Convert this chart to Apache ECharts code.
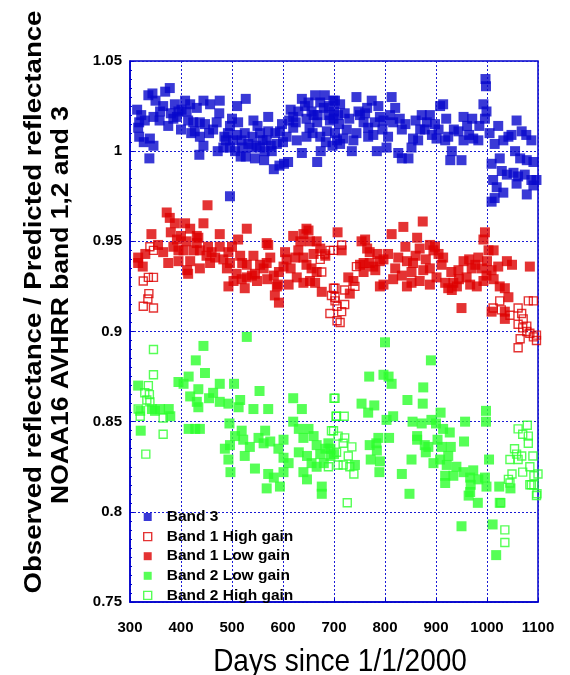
<!DOCTYPE html>
<html>
<head>
<meta charset="utf-8">
<script src="https://cdn.jsdelivr.net/npm/echarts@6/dist/echarts.min.js"></script>
<style>
  html, body { margin: 0; padding: 0; background: #ffffff; }
  #chart { width: 570px; height: 675px; }
</style>
</head>
<body>
<div id="chart"></div>
<script>
// Axis ticks
const dayTicks = [300, 400, 500, 600, 700, 800, 900, 1000, 1100];
const ratioTicks = [0.75, 0.8, 0.85, 0.9, 0.95, 1.0, 1.05];

// Titles
const xTitle = 'Days since 1/1/2000';
const yTitleLines = ['Observed reflectance / Predicted reflectance', 'NOAA16 AVHRR band 1,2 and 3'];

// Series names (legend order)
const seriesNames = ['Band 3', 'Band 1 High gain', 'Band 1 Low gain', 'Band 2 Low gain', 'Band 2 High gain'];

// [day, observed/predicted ratio]
const band3 = [
  [314,1.023],[336,1.031],[344,1.032],[369,1.033],[378,1.035],[365,1.025],[318,1.016],[316,1.013],[329,1.017],[346,1.019],
  [358,1.017],[375,1.014],[318,1.008],[327,1.005],[339,1.007],[346,1.003],[338,0.996],[388,1.026],[395,1.022],[408,1.028],
  [418,1.026],[431,1.024],[444,1.028],[392,1.019],[414,1.017],[424,1.016],[437,1.016],[447,1.015],[463,1.012],[427,1.011],
  [437,1.008],[444,1.003],[436,0.998],[476,1.028],[475,1.021],[500,1.018],[510,1.025],[527,1.029],[512,1.016],[488,1.006],
  [496,1.002],[506,1.000],[517,0.997],[527,0.997],[542,1.017],[550,1.014],[555,1.010],[545,0.996],[563,0.995],[571,1.019],
  [568,1.006],[576,1.003],[578,1.000],[582,0.990],[593,0.992],[602,0.993],[610,0.994],[594,1.011],[607,1.008],[615,1.023],
  [620,1.019],[625,1.016],[637,1.029],[643,1.025],[646,1.018],[652,1.013],[658,1.010],[663,1.031],[667,1.016],[673,1.027],
  [680,1.024],[682,1.031],[689,1.020],[699,1.028],[706,1.006],[697,1.003],[637,0.999],[667,0.994],[674,1.000],[684,1.005],
  [496,0.975],[483,1.002],[502,1.006],[519,1.006],[532,1.004],[539,1.002],[555,1.002],[564,1.000],[588,1.004],[600,1.005],
  [627,1.006],[646,1.008],[673,1.008],[686,1.011],[692,1.017],[660,1.020],[620,1.013],[571,1.011],[496,1.014],[411,1.022],
  [401,1.023],[457,1.026],[385,1.018],[359,1.022],
  [485,1.008],[492,1.010],[510,1.009],[525,1.010],[540,1.008],[548,1.003],[560,1.006],[585,1.010],[598,1.015],[612,1.017],
  [630,1.022],[650,1.027],[656,1.022],[668,1.020],[690,1.025],[700,1.022],[710,1.015],[725,1.012],[730,1.018],[748,1.022],
  [765,1.024],[780,1.016],[795,1.012],[810,1.020],[820,1.024],[840,1.015],[860,1.017],[878,1.012],[905,1.012],[920,1.018],
  [935,1.012],[965,1.009],[985,1.014],[1005,1.010],[470,1.016],[455,1.010],[380,1.021],[350,1.028],[322,1.020],[400,1.012],
  [420,1.010],[520,1.002],[472,1.000],
  [702,1.028],[712,1.026],[744,1.030],[699,1.018],[708,1.020],[721,1.021],[702,1.010],[718,1.007],[712,1.004],[735,1.000],
  [738,1.006],[751,1.020],[761,1.021],[758,1.016],[767,1.013],[774,1.028],[787,1.025],[777,1.009],[790,1.019],[797,1.017],
  [806,1.008],[813,1.030],[816,1.016],[829,1.018],[833,1.012],[826,0.999],[846,0.996],[852,1.002],[855,1.007],[865,1.006],
  [872,1.020],[882,1.016],[888,1.020],[892,1.009],[898,1.015],[908,1.025],[914,1.026],[901,1.007],[924,1.008],[931,1.000],
  [928,0.995],[950,0.995],[944,1.011],[954,1.019],[961,1.014],[971,1.018],[973,1.007],[983,1.006],[993,1.026],[999,1.022],
  [996,1.018],[997,1.040],[998,1.036],[1022,1.014],[1015,1.004],[1032,1.006],[1042,1.008],[1048,1.009],[1058,1.017],[1068,1.011],
  [1077,1.009],[1087,1.006],[1025,0.996],[1009,0.993],[1055,1.000],[1065,0.996],[1078,0.995],[1091,0.994],[1029,0.989],[1039,0.987],
  [1052,0.988],[1061,0.986],[1074,0.987],[1087,0.984],[1097,0.984],[1012,0.984],[1019,0.980],[1032,0.977],[1058,0.982],[1078,0.976],
  [1009,0.972],[1015,0.974],[1091,0.981],[744,1.010],[767,1.008],[869,1.012],[918,1.006],[954,1.006],[803,1.002],[784,1.000],
  [833,0.996]
];

const band1High = [
  [339,0.947],[346,0.945],[336,0.930],[346,0.930],[326,0.928],[337,0.921],[335,0.918],[326,0.914],[346,0.913],
  [692,0.945],[682,0.943],[673,0.940],[676,0.933],[699,0.924],[702,0.919],[695,0.920],[706,0.914],[692,0.910],[706,0.906],
  [715,0.948],[699,0.945],[744,0.936],[702,0.924],[721,0.923],[702,0.917],[721,0.915],[715,0.911],[712,0.905],[741,0.925],
  [1025,0.917],[1012,0.913],[1028,0.912],[1045,0.909],[1061,0.913],[1068,0.910],[1071,0.907],[1061,0.904],[1070,0.902],[1078,0.903],
  [1084,0.899],[1091,0.917],[1081,0.917],[1091,0.897],[1097,0.895],[1065,0.896],[1061,0.891],[1078,0.900],[1097,0.898]
];

const band1Low = [
  [372,0.966],[378,0.963],[388,0.960],[452,0.970],[342,0.954],[408,0.960],[418,0.957],[444,0.960],[476,0.954],[529,0.957],
  [512,0.951],[571,0.948],[620,0.953],[646,0.957],[640,0.954],[392,0.951],[431,0.953],
  [365,0.944],[395,0.945],[411,0.950],[434,0.952],[437,0.945],[450,0.942],[316,0.941],[316,0.938],[375,0.938],[395,0.939],
  [418,0.939],[412,0.934],[437,0.935],[414,0.932],[476,0.947],[483,0.940],[493,0.944],[496,0.938],[490,0.935],[509,0.932],
  [503,0.928],[493,0.925],[525,0.924],[516,0.942],[529,0.937],[542,0.942],[545,0.932],[549,0.928],[562,0.935],[569,0.929],
  [582,0.931],[592,0.933],[601,0.936],[604,0.944],[634,0.950],[650,0.956],[653,0.950],[666,0.950],[673,0.946],[683,0.942],
  [624,0.941],[640,0.941],[646,0.937],[656,0.935],[666,0.933],[627,0.930],[640,0.927],[653,0.928],[663,0.927],[676,0.922],
  [611,0.926],[588,0.925],[584,0.920],[592,0.916],[590,0.926],[568,0.949],[539,0.931],[529,0.930],[457,0.938],[467,0.941],
  [431,0.949],[405,0.945],[385,0.947],[453,0.947],[519,0.929],[568,0.938],[607,0.940],
  [355,0.948],[380,0.955],[400,0.953],[425,0.945],[460,0.944],[500,0.947],[520,0.938],[555,0.937],[575,0.941],[615,0.935],
  [630,0.945],[660,0.943],[765,0.946],[785,0.943],[820,0.935],[840,0.947],[860,0.942],[880,0.940],[930,0.933],[945,0.929],
  [965,0.940],[990,0.935],[1000,0.939],[325,0.936],[330,0.943],
  [707,0.955],[715,0.945],[754,0.950],[761,0.951],[770,0.944],[836,0.958],[874,0.961],[813,0.954],[863,0.952],[868,0.946],
  [888,0.948],[895,0.945],[905,0.943],[914,0.941],[898,0.947],[996,0.955],[993,0.951],[1003,0.945],[1013,0.945],[751,0.937],
  [758,0.938],[770,0.938],[777,0.936],[790,0.939],[797,0.940],[806,0.943],[826,0.941],[843,0.939],[855,0.938],[728,0.930],
  [738,0.928],[758,0.933],[781,0.934],[797,0.926],[790,0.925],[816,0.929],[833,0.931],[852,0.933],[852,0.927],[875,0.934],
  [888,0.935],[901,0.930],[911,0.937],[918,0.927],[924,0.924],[934,0.927],[944,0.934],[954,0.939],[960,0.930],[970,0.935],
  [977,0.937],[983,0.941],[967,0.926],[980,0.925],[993,0.928],[999,0.931],[1013,0.929],[1009,0.934],[1022,0.936],[1039,0.939],
  [1049,0.937],[1084,0.936],[1025,0.925],[1035,0.924],[731,0.921],[950,0.913],[1042,0.919],[1009,0.911],[1035,0.911],[1035,0.907],
  [888,0.926],[868,0.928],[843,0.925],[931,0.923],[941,0.925]
];

const band2Low = [
  [529,0.897],[444,0.892],[429,0.884],[447,0.877],[415,0.875],[395,0.872],[405,0.871],[476,0.871],[504,0.871],[434,0.868],
  [463,0.866],[554,0.867],[418,0.864],[431,0.861],[455,0.863],[476,0.861],[493,0.860],[516,0.862],[513,0.858],[434,0.858],
  [542,0.857],[571,0.857],[620,0.863],[637,0.857],[316,0.870],[320,0.856],[343,0.857],[359,0.857],[376,0.857],[379,0.853],
  [349,0.856],[321,0.845],[415,0.846],[428,0.846],[437,0.846],[495,0.849],[506,0.842],[519,0.845],[522,0.840],[486,0.835],
  [496,0.837],[493,0.829],[497,0.822],[525,0.831],[535,0.836],[545,0.824],[552,0.841],[565,0.845],[562,0.838],[575,0.839],
  [591,0.835],[601,0.840],[620,0.850],[631,0.846],[601,0.830],[611,0.827],[571,0.821],[582,0.819],[568,0.813],[594,0.814],
  [601,0.822],[631,0.833],[640,0.841],[650,0.846],[660,0.842],[666,0.837],[647,0.831],[656,0.827],[640,0.822],[647,0.818],
  [673,0.832],[683,0.835],[689,0.838],[680,0.827],[676,0.814],[676,0.810],[693,0.831],[666,0.825],[693,0.835],
  [800,0.894],[890,0.884],[769,0.875],[797,0.876],[807,0.875],[813,0.871],[875,0.869],[844,0.862],[874,0.860],[754,0.860],
  [779,0.859],[767,0.855],[909,0.855],[998,0.856],[816,0.853],[803,0.851],[854,0.850],[872,0.849],[891,0.851],[900,0.849],
  [957,0.850],[998,0.850],[787,0.841],[808,0.841],[863,0.842],[863,0.840],[903,0.840],[914,0.846],[927,0.844],[955,0.839],
  [783,0.838],[770,0.837],[784,0.834],[878,0.837],[885,0.836],[911,0.836],[929,0.836],[880,0.833],[924,0.831],[852,0.829],
  [772,0.829],[790,0.828],[895,0.827],[908,0.829],[741,0.826],[700,0.832],[921,0.826],[940,0.825],[954,0.822],[973,0.823],
  [789,0.822],[833,0.821],[918,0.820],[934,0.820],[967,0.819],[983,0.818],[996,0.819],[918,0.816],[968,0.815],[999,0.814],
  [1024,0.814],[1046,0.813],[967,0.811],[964,0.809],[1004,0.829],[848,0.810],[982,0.805],[1025,0.805],[950,0.792],[1011,0.793],
  [1018,0.776]
];

const band2High = [
  [346,0.890],[346,0.876],[336,0.870],[338,0.865],[333,0.862],[339,0.861],[329,0.866],[316,0.857],[320,0.853],[365,0.852],
  [365,0.843],[331,0.832],[702,0.863],[704,0.853],[695,0.845],[689,0.825],[708,0.826],
  [700,0.863],[705,0.853],[720,0.853],[699,0.845],[708,0.842],[721,0.841],[718,0.838],[735,0.836],[705,0.833],[728,0.831],
  [718,0.826],[731,0.825],[739,0.821],[726,0.805],
  [1061,0.846],[1079,0.848],[1070,0.843],[1081,0.842],[1081,0.838],[1054,0.835],[1058,0.832],[1068,0.831],[1045,0.829],[1061,0.829],
  [1090,0.831],[1049,0.821],[1070,0.822],[1084,0.825],[1092,0.820],[1100,0.821],[1042,0.818],[1084,0.815],[1092,0.815],[1098,0.810],
  [1027,0.805],[1035,0.790],[1035,0.783],[1045,0.816],[1087,0.815],[1097,0.809]
];

const FONT = '"Liberation Sans", Arial, Helvetica, sans-serif';
const AXIS_BLUE = '#0000cc';
const GRID_BLUE = '#1a1ad6';
const BLUE = '#0707cc';
const RED = '#dd0000';
const GREEN = '#2cff2c';

const filled = (color) => ({ color: color, borderWidth: 0 });
const hollow = (color) => ({ color: 'rgba(255,255,255,0)', borderColor: color, borderWidth: 1.4 });

const seriesStyles = [filled(BLUE), hollow(RED), filled(RED), filled(GREEN), hollow(GREEN)];
const seriesData = [band3, band1High, band1Low, band2Low, band2High];
const seriesSizes = [[10, 10], [8, 8], [10, 10], [10, 10], [8, 8]];

const chart = echarts.init(document.getElementById('chart'), null, { renderer: 'canvas' });

const axisCommon = {
  axisLine: { show: true, lineStyle: { color: AXIS_BLUE, width: 1.5 } },
  axisTick: { show: true, inside: true, length: 4, lineStyle: { color: AXIS_BLUE, width: 1 } },
  splitLine: { show: true, lineStyle: { color: GRID_BLUE, width: 1, type: [2, 2] } },
  axisLabel: { color: '#000', fontFamily: FONT, fontWeight: 'bold', fontSize: 15 }
};

chart.setOption({
  animation: false,
  backgroundColor: '#ffffff',
  grid: {
    left: 130, right: 32, top: 61, bottom: 73,
    show: true, borderColor: AXIS_BLUE, borderWidth: 1.5, backgroundColor: 'transparent'
  },
  xAxis: Object.assign({}, axisCommon, {
    type: 'value',
    min: dayTicks[0],
    max: dayTicks[dayTicks.length - 1],
    interval: dayTicks[1] - dayTicks[0],
    axisLabel: Object.assign({}, axisCommon.axisLabel, { margin: 18, formatter: (v) => String(v) })
  }),
  yAxis: Object.assign({}, axisCommon, {
    type: 'value',
    min: ratioTicks[0],
    max: ratioTicks[ratioTicks.length - 1],
    interval: 0.05,
    minorTick: { show: true, splitNumber: 10, length: 2, lineStyle: { color: AXIS_BLUE, width: 1 } },
    axisLabel: Object.assign({}, axisCommon.axisLabel, {
      margin: 8,
      formatter: (v) => String(parseFloat(v.toFixed(2)))
    })
  }),
  legend: {
    orient: 'vertical',
    left: 138,
    top: 504,
    itemWidth: 8,
    itemHeight: 8,
    itemGap: 3.6,
    selectedMode: false,
    textStyle: { color: '#000', fontFamily: FONT, fontWeight: 'bold', fontSize: 15.5, lineHeight: 16, padding: [0, 0, 0, 10] },
    data: seriesNames.map((name, i) => ({ name: name, icon: 'rect', itemStyle: seriesStyles[i] }))
  },
  graphic: [
    {
      type: 'text', x: 35, y: 302, rotation: Math.PI / 2, scaleX: 1.2, scaleY: 1,
      style: { text: yTitleLines[0], font: 'bold 23px ' + FONT, fill: '#000',
               textAlign: 'center', textVerticalAlign: 'middle', align: 'center', verticalAlign: 'middle' }
    },
    {
      type: 'text', x: 62, y: 305, rotation: Math.PI / 2, scaleX: 1.15, scaleY: 1,
      style: { text: yTitleLines[1], font: 'bold 23px ' + FONT, fill: '#000',
               textAlign: 'center', textVerticalAlign: 'middle', align: 'center', verticalAlign: 'middle' }
    },
    {
      type: 'text', x: 340, y: 662, scaleX: 1, scaleY: 1.15,
      style: { text: xTitle, font: '28px ' + FONT, fill: '#000',
               textAlign: 'center', textVerticalAlign: 'middle', align: 'center', verticalAlign: 'middle' }
    }
  ],
  series: seriesNames.map((name, i) => ({
    name: name,
    type: 'scatter',
    symbol: 'rect',
    symbolSize: seriesSizes[i],
    itemStyle: seriesStyles[i],
    data: seriesData[i],
    emphasis: { disabled: true }
  }))
});
</script>
</body>
</html>
